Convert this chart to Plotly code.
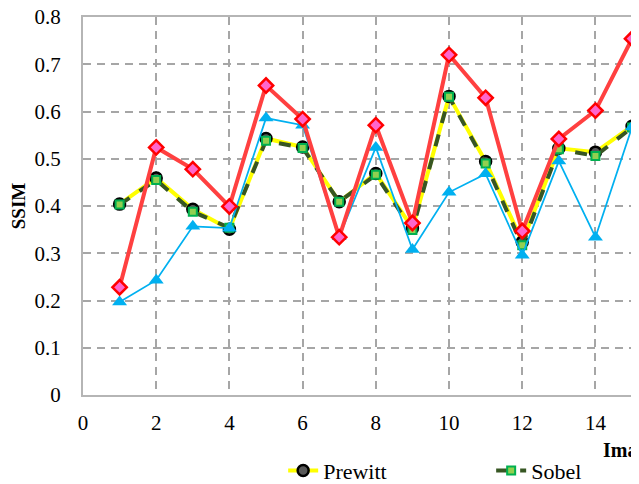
import plotly.graph_objects as go

images = list(range(1, 16))
prewitt = [0.404, 0.459, 0.393, 0.351, 0.543, 0.525, 0.409, 0.469, 0.353, 0.632, 0.494, 0.324, 0.522, 0.514, 0.569]
sobel = [0.403, 0.455, 0.388, 0.354, 0.538, 0.523, 0.409, 0.466, 0.349, 0.631, 0.490, 0.317, 0.520, 0.506, 0.566]
series_blue = [0.197, 0.243, 0.357, 0.353, 0.586, 0.571, 0.335, 0.524, 0.308, 0.429, 0.468, 0.296, 0.495, 0.334, 0.567]
series_red = [0.228, 0.524, 0.478, 0.399, 0.655, 0.584, 0.334, 0.571, 0.364, 0.720, 0.629, 0.347, 0.542, 0.602, 0.754]

y_ticks = [0, 0.1, 0.2, 0.3, 0.4, 0.5, 0.6, 0.7, 0.8]
y_tick_text = ["0", "0.1", "0.2", "0.3", "0.4", "0.5", "0.6", "0.7", "0.8"]
x_ticks = [0, 2, 4, 6, 8, 10, 12, 14]

FONT = "Liberation Serif, Times New Roman, serif"

fig = go.Figure()
fig.add_trace(go.Scatter(
    x=images, y=prewitt, name="Prewitt", mode="lines+markers",
    line=dict(color="#FFFF00", width=4),
    marker=dict(symbol="circle", size=11, color="#595959", line=dict(color="#000000", width=2.5)),
    cliponaxis=False))
fig.add_trace(go.Scatter(
    x=images, y=sobel, name="Sobel", mode="lines+markers",
    line=dict(color="#375623", width=4, dash="dash"),
    marker=dict(symbol="square", size=8, color="#92D050", line=dict(color="#00B050", width=2)),
    cliponaxis=False))
fig.add_trace(go.Scatter(
    x=images, y=series_blue, name="Roberts", mode="lines+markers", showlegend=False,
    line=dict(color="#00B0F0", width=1.75),
    marker=dict(symbol="triangle-up", size=13, color="#00B0F0", line=dict(width=0)),
    cliponaxis=False))
fig.add_trace(go.Scatter(
    x=images, y=series_red, name="Canny", mode="lines+markers", showlegend=False,
    line=dict(color="#FF4040", width=4),
    marker=dict(symbol="diamond", size=11, color="#FF66CC", line=dict(color="#FF0000", width=2.5)),
    cliponaxis=False))

fig.add_annotation(
    text="<b>Image</b>", xref="paper", yref="paper", x=0.9317, y=-0.148,
    xanchor="left", yanchor="middle", showarrow=False,
    font=dict(family=FONT, size=20, color="#000000"))

fig.update_layout(
    width=639, height=484,
    margin=dict(l=75, r=8, t=9, b=97, pad=0, autoexpand=False),
    paper_bgcolor="white", plot_bgcolor="white",
    font=dict(family=FONT, size=21, color="#000000"),
    showlegend=True,
    legend=dict(orientation="h", x=0.36, y=-0.2, xanchor="left", yanchor="middle",
                entrywidth=163, entrywidthmode="pixels",
                font=dict(family=FONT, size=22), bgcolor="rgba(0,0,0,0)"),
    xaxis=dict(range=[0, 15.19], tickvals=x_ticks, showline=True, linecolor="#B5B5B5", linewidth=2,
               mirror=True, showgrid=True, gridcolor="#A6A6A6", gridwidth=1.5, griddash="8px,6px",
               zeroline=False, ticks="", ticklabelstandoff=8, tickfont=dict(family=FONT, size=21),
               automargin=False, ticklabeloverflow="allow"),
    yaxis=dict(range=[0, 0.8], tickvals=y_ticks, ticktext=y_tick_text, showline=True,
               linecolor="#B5B5B5", linewidth=2, showgrid=True, gridcolor="#A6A6A6",
               gridwidth=1.5, griddash="8px,6px", zeroline=False, ticks="", ticklabelstandoff=16,
               tickfont=dict(family=FONT, size=21), automargin=False, ticklabeloverflow="allow",
               title=dict(text="<b>SSIM</b>", font=dict(family=FONT, size=19), standoff=12)),
)

fig.write_html("out.html")
